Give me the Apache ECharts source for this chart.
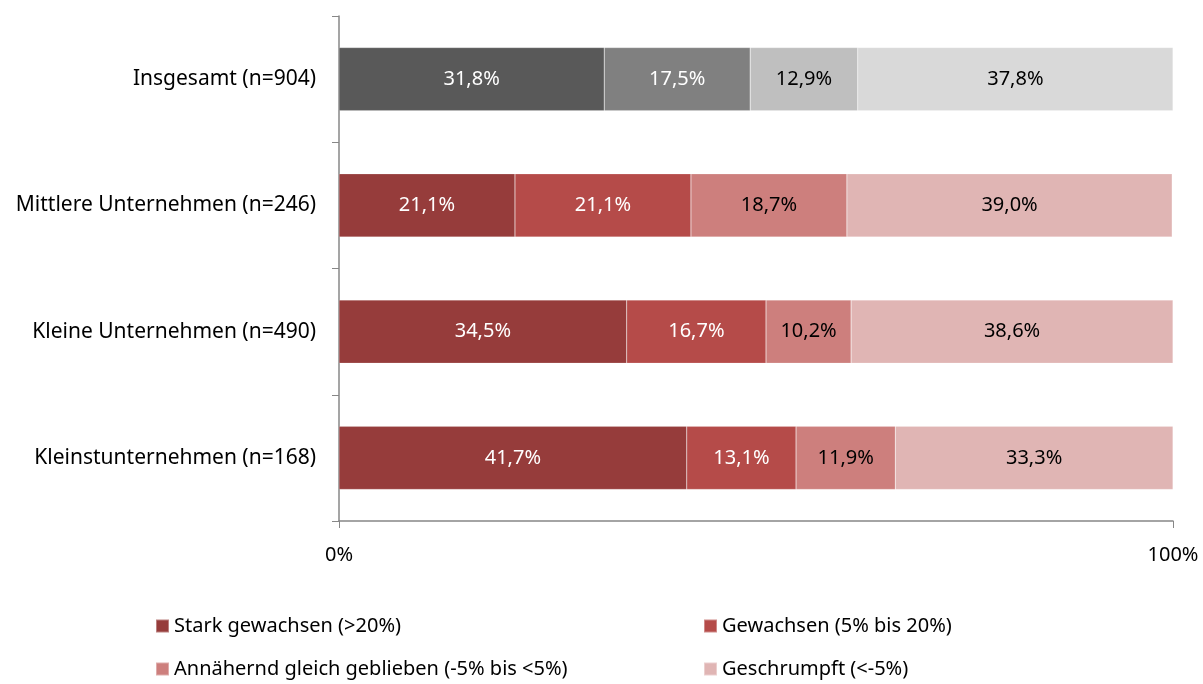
<!DOCTYPE html>
<html>
<head>
<meta charset="utf-8">
<script src="https://cdn.jsdelivr.net/npm/echarts@6/dist/echarts.min.js"></script>
<style>html,body{margin:0;padding:0;background:#fff}#c{width:1203px;height:684px}</style>
</head>
<body>
<div id="c"></div>
<script>
const categories = ['Insgesamt (n=904)', 'Mittlere Unternehmen (n=246)', 'Kleine Unternehmen (n=490)', 'Kleinstunternehmen (n=168)'];
const seriesNames = ['Stark gewachsen (>20%)', 'Gewachsen (5% bis 20%)', 'Annähernd gleich geblieben (-5% bis <5%)', 'Geschrumpft (<-5%)'];
const starkGewachsen = [31.8, 21.1, 34.5, 41.7];
const gewachsen = [17.5, 21.1, 16.7, 13.1];
const gleich = [12.9, 18.7, 10.2, 11.9];
const geschrumpft = [37.8, 39.0, 38.6, 33.3];
const xTickLabels = ['0%', '100%'];

const values = [starkGewachsen, gewachsen, gleich, geschrumpft];
const redColors = ['#963C3B', '#B54B49', '#CD7F7D', '#E0B5B4'];
const grayColors = ['#595959', '#808080', '#BFBFBF', '#D9D9D9'];
const labelColors = ['#fff', '#fff', '#000', '#000'];
const FONT = 'Noto Sans';

const series = values.map((arr, i) => ({
  name: seriesNames[i],
  type: 'bar',
  stack: 'total',
  barWidth: '50%',
  itemStyle: { color: redColors[i], borderColor: 'rgba(255,255,255,0.35)', borderWidth: 0.5 },
  label: {
    show: true, position: 'inside', color: labelColors[i],
    fontFamily: FONT, fontSize: 20,
    formatter: p => p.value.toFixed(1).replace('.', ',') + '%'
  },
  data: arr.map((v, j) => j === 0 ? { value: v, itemStyle: { color: grayColors[i] } } : v)
}));

const legendPos = [[155, 616], [703, 616], [155, 659], [703, 659]];
const legends = seriesNames.map((n, i) => ({
  data: [n], left: legendPos[i][0], top: legendPos[i][1], padding: 0,
  itemWidth: 13, itemHeight: 13, itemGap: 5, icon: 'rect', selectedMode: false,
  textStyle: { fontFamily: FONT, fontSize: 20, color: '#000', padding: [0,0,0,0] }
}));

const chart = echarts.init(document.getElementById('c'), null, { renderer: 'canvas' });
chart.setOption({
  animation: false,
  grid: { left: 339, right: 30, top: 16, bottom: 163, containLabel: false },
  legend: legends,
  xAxis: {
    type: 'value', min: 0, max: 100, interval: 100,
    axisLine: { show: true, lineStyle: { color: '#878787', width: 1.5 } },
    axisTick: { show: true, length: 7, lineStyle: { color: '#878787' } },
    splitLine: { show: false },
    axisLabel: { margin: 24, fontFamily: FONT, fontSize: 20, color: '#000',
      formatter: v => v === 0 ? xTickLabels[0] : xTickLabels[1] }
  },
  yAxis: {
    type: 'category', inverse: true, data: categories,
    axisLine: { show: true, lineStyle: { color: '#878787', width: 1.5 } },
    axisTick: { show: true, length: 7, lineStyle: { color: '#878787' } },
    axisLabel: { margin: 23, fontFamily: FONT, fontSize: 21, color: '#000' }
  },
  series
});
</script>
</body>
</html>
